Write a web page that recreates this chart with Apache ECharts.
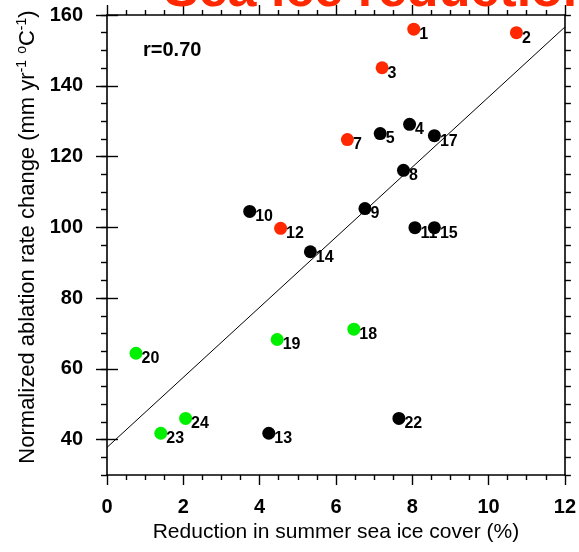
<!DOCTYPE html>
<html>
<head>
<meta charset="utf-8">
<script src="https://cdn.jsdelivr.net/npm/echarts@6/dist/echarts.min.js"></script>
<style>
  html, body { margin: 0; padding: 0; background: #fff; }
  #chart { width: 579px; height: 552px; }
</style>
</head>
<body>
<div id="chart"></div>
<script>
// Case numbers, summer sea-ice reduction (%) and normalized ablation rate change
const caseIds = ['1', '2', '3', '4', '5', '7', '8', '9', '10', '11', '12',
                 '13', '14', '15', '17', '18', '19', '20', '22', '23', '24'];
const iceReduction = [8.04, 10.73, 7.21, 7.93, 7.16, 6.30, 7.77, 6.76, 3.74, 8.07, 4.55,
                      4.24, 5.33, 8.58, 8.58, 6.47, 4.46, 0.76, 7.65, 1.41, 2.06];
const ablationChange = [156.0, 155.0, 145.1, 129.1, 126.5, 124.8, 116.1, 105.3, 104.5, 99.9, 99.7,
                        41.8, 93.1, 99.9, 125.9, 71.2, 68.3, 64.4, 46.0, 41.8, 46.0];
// marker group of each case: r = red, k = black, g = green
const caseGroup = ['r', 'r', 'r', 'k', 'k', 'r', 'k', 'k', 'k', 'k', 'r',
                   'k', 'k', 'k', 'k', 'g', 'g', 'g', 'k', 'g', 'g'];

// Least-squares fit line end points
const fitX = [0, 12];
const fitY = [37.8, 156.6];
const correlationText = 'r=0.70';

const xTicks = [0, 2, 4, 6, 8, 10, 12];
const yTickLabels = [40, 60, 80, 100, 120, 140, 160];

const groupColors = { r: '#ff2800', k: '#000000', g: '#00f000' };
const FONT = '"Liberation Sans", Arial, Helvetica, sans-serif';
const axisLine = { color: '#000', width: 1.6 };
const tickLine = { color: '#000', width: 1.4 };

function groupData(g) {
  const out = [];
  for (let i = 0; i < caseIds.length; i++) {
    if (caseGroup[i] === g) out.push({ value: [iceReduction[i], ablationChange[i]], name: caseIds[i] });
  }
  return out;
}

const scatterSeries = ['k', 'r', 'g'].map(g => ({
  type: 'scatter',
  xAxisIndex: 0,
  yAxisIndex: 0,
  symbol: 'circle',
  symbolSize: 13,
  itemStyle: { color: groupColors[g], opacity: 1 },
  label: {
    show: true,
    formatter: p => p.name,
    position: [12, 4],
    align: 'left',
    verticalAlign: 'top',
    fontFamily: FONT,
    fontWeight: 'bold',
    fontSize: 16,
    color: '#000'
  },
  emphasis: { disabled: true },
  data: groupData(g),
  z: 3
}));

function xAxisBase(pos, showLabels) {
  return {
    type: 'value', position: pos, min: xTicks[0], max: xTicks[xTicks.length - 1], interval: 2,
    axisLine: { show: true, onZero: false, lineStyle: axisLine },
    axisTick: { show: true, inside: false, length: 10, lineStyle: tickLine },
    minorTick: { show: true, splitNumber: 4, length: 5, lineStyle: tickLine },
    splitLine: { show: false },
    minorSplitLine: { show: false },
    axisLabel: { show: showLabels, margin: 22, fontFamily: FONT, fontWeight: 'bold', fontSize: 20, color: '#000' }
  };
}

function yMinorAxis(pos, showLabels) {
  return {
    type: 'value', position: pos, min: 30, max: 160, interval: 5,
    axisLine: { show: true, onZero: false, lineStyle: axisLine },
    axisTick: { show: true, inside: false, length: 6, lineStyle: tickLine },
    splitLine: { show: false },
    axisLabel: {
      show: showLabels, customValues: yTickLabels, margin: 24,
      fontFamily: FONT, fontWeight: 'bold', fontSize: 20, color: '#000'
    }
  };
}

function yMajorAxis(pos) {
  return {
    type: 'value', position: pos, min: 30, max: 160,
    axisLine: { show: false },
    axisTick: { show: true, inside: false, length: 11, customValues: yTickLabels, lineStyle: tickLine },
    splitLine: { show: false },
    axisLabel: { show: false }
  };
}

const xBottom = Object.assign(xAxisBase('bottom', true), {
  name: 'Reduction in summer sea ice cover (%)',
  nameLocation: 'middle',
  nameGap: 38,
  nameTextStyle: { fontFamily: FONT, fontSize: 21, color: '#000' }
});

const yLeft = Object.assign(yMinorAxis('left', true), {
  name: '{a|Normalized ablation rate change (mm yr}{s|-1}{a| }{s|o}{a|C}{s|-1}{a|)}',
  nameLocation: 'middle',
  nameRotate: 90,
  nameGap: 58,
  nameTextStyle: {
    fontFamily: FONT, color: '#000',
    padding: [0, 0, 0, 16],
    rich: {
      a: { fontFamily: FONT, fontSize: 22, lineHeight: 26, color: '#000' },
      s: { fontFamily: FONT, fontSize: 14, lineHeight: 15, verticalAlign: 'top', color: '#000' }
    }
  }
});

const option = {
  animation: false,
  backgroundColor: '#fff',
  grid: { left: 107, right: 11, top: 15, bottom: 77, containLabel: false },
  xAxis: [xBottom, xAxisBase('top', false)],
  yAxis: [yLeft, yMajorAxis('left'), yMinorAxis('right', false), yMajorAxis('right')],
  graphic: [
    {
      type: 'text', x: 164, y: -8, z: 10,
      style: { text: 'Sea ice reduction', fill: '#ff2800', font: 'bold 52px ' + FONT, align: 'left', verticalAlign: 'middle' }
    },
    {
      type: 'text', x: 143, y: 50, z: 10,
      style: { text: correlationText, fill: '#000', font: 'bold 20px ' + FONT, align: 'left', verticalAlign: 'middle' }
    }
  ],
  series: [
    {
      type: 'line',
      xAxisIndex: 0,
      yAxisIndex: 0,
      data: fitX.map((x, i) => [x, fitY[i]]),
      showSymbol: false,
      symbol: 'none',
      lineStyle: { color: '#000', width: 1 },
      clip: true,
      silent: true,
      z: 2
    }
  ].concat(scatterSeries)
};

const chart = echarts.init(document.getElementById('chart'), null, { renderer: 'canvas' });
chart.setOption(option);
</script>
</body>
</html>
